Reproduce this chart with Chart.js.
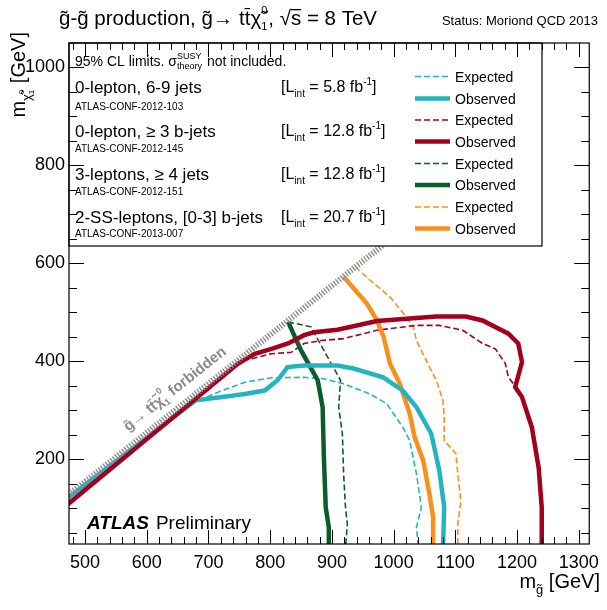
<!DOCTYPE html>
<html>
<head>
<meta charset="utf-8">
<script src="https://cdn.jsdelivr.net/npm/chart.js@4.4.0/dist/chart.umd.min.js"></script>
<style>
  html, body { margin: 0; padding: 0; background: #fff; }
</style>
</head>
<body>
<canvas id="exclusionChart" width="607" height="610"></canvas>
<script>
// Ejes (GeV)
const xMin = 474, xMax = 1317;
const yMin = 27, yMax = 1049;
const xMajorTicks = [500, 600, 700, 800, 900, 1000, 1100, 1200, 1300];
const yMajorTicks = [200, 400, 600, 800, 1000];
const xMinorStep = 20;
const yMinorStep = 50;

// Curvas: [m_gluino, m_neutralino]
const zeroLepJetsExp = [[684, 320], [722, 340], [759, 357], [802, 366], [855, 367], [887, 364], [919, 354], [962, 333], [989, 313], [1015, 265], [1026, 238], [1037, 170], [1045, 102], [1037, 61], [1040, 20]];
const zeroLepJetsObs = [[470, 119], [679, 320], [722, 327], [759, 333], [791, 340], [812, 361], [828, 388], [855, 391], [909, 391], [935, 385], [983, 367], [1015, 340], [1037, 306], [1061, 252], [1074, 177], [1082, 102], [1080, 20]];
const zeroLepBjetsExp = [[770, 405], [802, 415], [834, 418], [855, 436], [882, 442], [919, 446], [973, 463], [1037, 473], [1074, 473], [1112, 463], [1144, 436], [1165, 425], [1181, 395], [1186, 367], [1194, 354]];
const zeroLepBjetsObs = [[470, 106], [748, 395], [775, 415], [802, 425], [829, 436], [855, 453], [871, 459], [909, 464], [973, 482], [1026, 487], [1069, 491], [1117, 491], [1144, 483], [1186, 456], [1202, 436], [1208, 398], [1197, 347], [1208, 327], [1224, 265], [1235, 183], [1240, 102], [1240, 20]];
const threeLepExp = [[829, 480], [866, 470], [887, 422], [914, 361], [911, 306], [917, 252], [919, 170], [922, 102], [925, 68], [922, 20]];
const threeLepObs = [[829, 480], [850, 422], [877, 361], [885, 306], [887, 204], [890, 102], [895, 61], [895, 20]];
const ssLepExp = [[938, 592], [962, 565], [994, 531], [1016, 497], [1032, 470], [1037, 442], [1053, 401], [1069, 361], [1080, 320], [1082, 286], [1082, 238], [1101, 211], [1104, 170], [1109, 115], [1104, 68], [1104, 20]];
const ssLepObs = [[919, 572], [957, 517], [973, 483], [984, 449], [994, 395], [1010, 354], [1026, 293], [1034, 245], [1048, 197], [1058, 129], [1064, 81], [1064, 20]];
const forbiddenEdge = [[470, 124], [1000, 654]];

// Textos de la leyenda
const analysisNames = ['0-lepton, 6-9 jets', '0-lepton, \u2265 3 b-jets', '3-leptons, \u2265 4 jets', '2-SS-leptons, [0-3] b-jets'];
const confNotes = ['ATLAS-CONF-2012-103', 'ATLAS-CONF-2012-145', 'ATLAS-CONF-2012-151', 'ATLAS-CONF-2013-007'];
const lumis = ['5.8', '12.8', '12.8', '20.7'];
const analysisColors = ['#22b5bf', '#a3001f', '#0b5b2c', '#f7901c'];

const FONT = '"Liberation Sans", Arial, Helvetica, sans-serif';

function fontOf(p) {
    return (p.italic ? 'italic ' : '') + (p.bold ? 'bold ' : '') + p.size + 'px ' + FONT;
}

/**
 * Dibuja texto con subindices / superindices al estilo ROOT
 */
function drawParts(ctx, x, y, parts, align) {
    let total = 0;
    parts.forEach(p => {
        ctx.font = fontOf(p);
        if (p.sub !== undefined) {
            p.w = Math.max(ctx.measureText(p.sub).width, ctx.measureText(p.sup).width) + 1;
        } else {
            p.w = ctx.measureText(p.t).width;
        }
        total += p.w;
    });
    let cx = align === 'right' ? x - total : (align === 'center' ? x - total / 2 : x);
    ctx.textAlign = 'left';
    ctx.textBaseline = 'alphabetic';
    parts.forEach(p => {
        ctx.font = fontOf(p);
        if (p.sub !== undefined) {
            ctx.fillText(p.sub, cx, y + p.dsub);
            ctx.fillText(p.sup, cx, y + p.dsup);
        } else {
            ctx.fillText(p.t, cx, y + (p.dy || 0));
            if (p.overline) {
                ctx.fillRect(cx, y - p.size * 0.78, p.w, 1.3);
            }
        }
        cx += p.w;
    });
    return total;
}

function toXY(points) {
    return points.map(p => ({ x: p[0], y: p[1] }));
}

function lineSet(points, color, observed, order) {
    return {
        data: toXY(points),
        borderColor: color,
        borderWidth: observed ? 4.5 : 1.6,
        borderDash: observed ? [] : [6, 3],
        fill: false,
        pointRadius: 0,
        tension: 0,
        order: order
    };
}

// Marco, ticks internos, leyenda y textos
const rootDecorations = {
    id: 'rootDecorations',
    afterDatasetsDraw(chart) {
        const ctx = chart.ctx;
        const area = chart.chartArea;
        const xs = chart.scales.x, ys = chart.scales.y;
        ctx.save();

        // Texto de la region prohibida
        const p0 = { x: xs.getPixelForValue(570), y: ys.getPixelForValue(256) };
        const ang = Math.atan2(ys.getPixelForValue(forbiddenEdge[1][1]) - ys.getPixelForValue(forbiddenEdge[0][1]),
                               xs.getPixelForValue(forbiddenEdge[1][0]) - xs.getPixelForValue(forbiddenEdge[0][0]));
        ctx.save();
        ctx.translate(p0.x, p0.y);
        ctx.rotate(ang);
        ctx.fillStyle = '#8a8a8a';
        drawParts(ctx, 0, 0, [
            { t: 'g\u0303\u2192 tt\u0304\u03C7\u0303', size: 15, bold: true },
            { sub: '1', sup: '0', size: 9, bold: true, dsub: 4, dsup: -10 },
            { t: ' forbidden', size: 15, bold: true }
        ], 'left');
        ctx.restore();

        // Caja de la leyenda
        const boxL = area.left, boxT = area.top, boxR = 542, boxB = 246;
        ctx.fillStyle = '#fff';
        ctx.fillRect(boxL, boxT, boxR - boxL, boxB - boxT);
        ctx.strokeStyle = '#000';
        ctx.lineWidth = 1.2;
        ctx.strokeRect(boxL, boxT, boxR - boxL, boxB - boxT);

        ctx.fillStyle = '#000';
        drawParts(ctx, 75, 66, [
            { t: '95% CL limits. \u03C3', size: 14 },
            { sub: 'theory', sup: 'SUSY', size: 9, dsub: 3, dsup: -7 },
            { t: ' not included.', size: 14 }
        ], 'left');

        const nameBase = [93, 137, 180, 223];
        const confBase = [110, 152, 195, 237];
        analysisNames.forEach((name, i) => {
            ctx.fillStyle = '#000';
            drawParts(ctx, 75, nameBase[i], [{ t: name, size: 17 }], 'left');
            drawParts(ctx, 75, confBase[i], [{ t: confNotes[i], size: 10 }], 'left');
            drawParts(ctx, 281, nameBase[i] - 1, [
                { t: '[L', size: 16 },
                { t: 'int', size: 10, dy: 5 },
                { t: ' = ' + lumis[i] + ' fb', size: 16 },
                { t: '-1', size: 10, dy: -7 },
                { t: ']', size: 16 }
            ], 'left');
        });

        const entryBase = [81.5, 103.5, 125, 146.5, 168.5, 190, 212, 233.5];
        entryBase.forEach((yb, k) => {
            const i = Math.floor(k / 2);
            const observed = k % 2 === 1;
            ctx.strokeStyle = analysisColors[i];
            ctx.lineWidth = observed ? 4.5 : 1.6;
            ctx.setLineDash(observed ? [] : [6, 3]);
            ctx.beginPath();
            ctx.moveTo(415, yb - 5);
            ctx.lineTo(450, yb - 5);
            ctx.stroke();
            ctx.setLineDash([]);
            ctx.fillStyle = '#000';
            drawParts(ctx, 455, yb, [{ t: observed ? 'Observed' : 'Expected', size: 14 }], 'left');
        });

        // ATLAS Preliminary
        const w = drawParts(ctx, 87, 529, [{ t: 'ATLAS', size: 19, bold: true, italic: true }], 'left');
        drawParts(ctx, 87 + w + 7, 529, [{ t: 'Preliminary', size: 19 }], 'left');

        // Marco y ticks
        ctx.strokeStyle = '#000';
        ctx.lineWidth = 1.2;
        ctx.strokeRect(area.left, area.top, area.right - area.left, area.bottom - area.top);
        ctx.lineWidth = 1;
        ctx.beginPath();
        for (let v = Math.ceil(xMin / xMinorStep) * xMinorStep; v <= xMax; v += xMinorStep) {
            const px = Math.round(xs.getPixelForValue(v)) + 0.5;
            const len = xMajorTicks.includes(v) ? 14 : 7;
            ctx.moveTo(px, area.bottom); ctx.lineTo(px, area.bottom - len);
            ctx.moveTo(px, area.top); ctx.lineTo(px, area.top + len);
        }
        for (let v = Math.ceil(yMin / yMinorStep) * yMinorStep; v <= yMax; v += yMinorStep) {
            const py = Math.round(ys.getPixelForValue(v)) + 0.5;
            const len = yMajorTicks.includes(v) ? 15 : 8;
            ctx.moveTo(area.left, py); ctx.lineTo(area.left + len, py);
            ctx.moveTo(area.right, py); ctx.lineTo(area.right - len, py);
        }
        ctx.stroke();
        ctx.restore();
    },
    afterDraw(chart) {
        const ctx = chart.ctx;
        ctx.save();
        ctx.fillStyle = '#000';
        // Titulo
        drawParts(ctx, 59, 25, [
            { t: 'g\u0303-g\u0303 production, g\u0303\u2192 tt\u0304\u03C7\u0303', size: 20.5 },
            { sub: '1', sup: '0', size: 11, dsub: 5, dsup: -11 },
            { t: ', \u221A', size: 20.5 },
            { t: 's', size: 20.5, overline: true },
            { t: ' = 8 TeV', size: 20.5 }
        ], 'left');
        drawParts(ctx, 598, 25, [{ t: 'Status: Moriond QCD 2013', size: 13 }], 'right');

        // Titulo eje X
        drawParts(ctx, 600, 588, [
            { t: 'm', size: 20 },
            { t: 'g\u0303', size: 13, dy: 6 },
            { t: ' [GeV]', size: 20 }
        ], 'right');

        // Titulo eje Y
        ctx.translate(25, 32);
        ctx.rotate(-Math.PI / 2);
        drawParts(ctx, 0, 0, [
            { t: 'm', size: 20 },
            { t: '\u03C7\u0303', size: 13, dy: 6 },
            { sub: '1', sup: '0', size: 8, dsub: 9, dsup: -1 },
            { t: ' [GeV]', size: 20 }
        ], 'right');
        ctx.restore();
    }
};

document.addEventListener('DOMContentLoaded', function() {
    const canvas = document.getElementById('exclusionChart');
    new Chart(canvas.getContext('2d'), {
        type: 'line',
        data: {
            datasets: [
                Object.assign(lineSet(forbiddenEdge, '#8c8c8c', true, 0), { borderWidth: 6, borderDash: [1.4, 1.6] }),
                lineSet(zeroLepBjetsObs, analysisColors[1], true, 1),
                lineSet(zeroLepJetsObs, analysisColors[0], true, 2),
                lineSet(ssLepObs, analysisColors[3], true, 3),
                lineSet(threeLepObs, analysisColors[2], true, 4),
                lineSet(zeroLepBjetsExp, analysisColors[1], false, 5),
                lineSet(zeroLepJetsExp, analysisColors[0], false, 6),
                lineSet(ssLepExp, analysisColors[3], false, 7),
                lineSet(threeLepExp, analysisColors[2], false, 8)
            ]
        },
        options: {
            responsive: false,
            animation: false,
            devicePixelRatio: 1,
            layout: { padding: { top: 43, right: 11, left: 0, bottom: 0 } },
            plugins: {
                legend: { display: false },
                tooltip: { enabled: false },
                title: { display: false }
            },
            scales: {
                x: {
                    type: 'linear',
                    min: xMin,
                    max: xMax,
                    grid: { display: false, drawTicks: false },
                    border: { display: false },
                    afterBuildTicks: s => { s.ticks = xMajorTicks.map(v => ({ value: v })); },
                    afterFit: s => { s.height = 66; },
                    ticks: {
                        color: '#000',
                        font: { family: FONT, size: 18 },
                        padding: 8,
                        maxRotation: 0,
                        autoSkip: false,
                        callback: v => String(v)
                    }
                },
                y: {
                    type: 'linear',
                    min: yMin,
                    max: yMax,
                    grid: { display: false, drawTicks: false },
                    border: { display: false },
                    afterBuildTicks: s => { s.ticks = yMajorTicks.map(v => ({ value: v })); },
                    afterFit: s => { s.width = 69; },
                    ticks: {
                        color: '#000',
                        font: { family: FONT, size: 18 },
                        padding: 4,
                        autoSkip: false,
                        callback: v => String(v)
                    }
                }
            }
        },
        plugins: [rootDecorations]
    });
});
</script>
</body>
</html>
